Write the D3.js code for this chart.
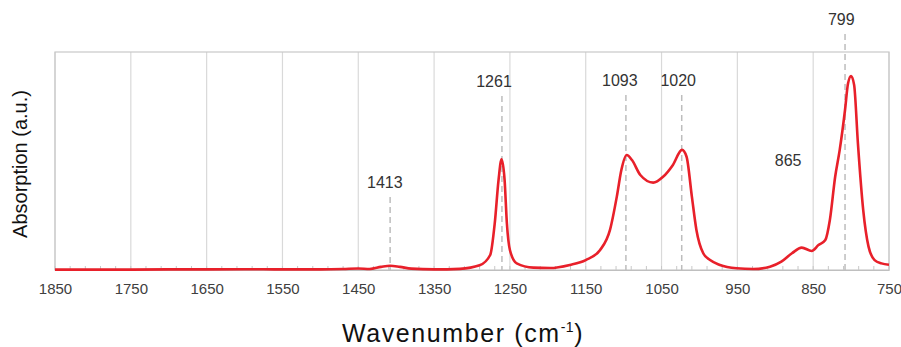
<!DOCTYPE html>
<html>
<head>
<meta charset="utf-8">
<script src="https://cdn.jsdelivr.net/npm/d3@7"></script>
<style>
  body { margin: 0; background: #fff; }
  svg { display: block; font-family: "Liberation Sans", Arial, sans-serif; }
</style>
</head>
<body>
<div id="chart"></div>
<script>
// spectrum (wavenumber in cm-1, absorption in a.u.)
var wavenumber = [1850, 1800, 1750, 1700, 1650, 1600, 1550, 1500, 1470, 1450, 1435, 1420, 1408, 1395, 1380, 1350,
  1316, 1290, 1276, 1270, 1265, 1261, 1257, 1254, 1250, 1241, 1219, 1197, 1171, 1150, 1131, 1118, 1109, 1103,
  1096, 1089, 1078, 1061, 1048, 1035, 1023, 1017, 1010, 1004, 995, 986, 973, 951, 929, 907, 892, 878, 865,
  852, 843, 834, 828, 821, 815, 808, 804, 800, 796, 791, 784, 777, 769, 760, 750];
var absorption = [0.002, 0.002, 0.002, 0.003, 0.003, 0.004, 0.003, 0.003, 0.005, 0.008, 0.005, 0.016, 0.022, 0.016, 0.007, 0.003,
  0.006, 0.024, 0.077, 0.240, 0.462, 0.569, 0.462, 0.240, 0.103, 0.034, 0.012, 0.010, 0.026, 0.051, 0.103, 0.206, 0.377, 0.514,
  0.591, 0.565, 0.488, 0.449, 0.479, 0.540, 0.617, 0.582, 0.377, 0.206, 0.086, 0.051, 0.026, 0.009, 0.005, 0.017, 0.043, 0.086, 0.115,
  0.098, 0.128, 0.154, 0.257, 0.479, 0.617, 0.822, 0.959, 0.997, 0.951, 0.651, 0.308, 0.120, 0.051, 0.034, 0.027];

var xTicks = [1850, 1750, 1650, 1550, 1450, 1350, 1250, 1150, 1050, 950, 850, 750];

// peak labels: text, where the label sits, where its dashed marker sits, label height
var peakText = ["1413", "1261", "1093", "1020", "865", "799"];
var peakLabelAt = [1415, 1271, 1105, 1028, 883, 813];
var peakLineAt = [1408, 1260.5, 1097, 1023.4, null, 808];
var peakLevel = [0.421, 0.940, 0.945, 0.945, 0.534, 1.259];

var W = 901, H = 347;
var margin = { top: 52, right: 12, bottom: 77, left: 55 },
    width = W - margin.left - margin.right,
    height = H - margin.top - margin.bottom;

var svg = d3.select("#chart")
    .append("svg")
    .attr("width", W)
    .attr("height", H);

var g = svg.append("g")
    .attr("transform", "translate(" + margin.left + "," + margin.top + ")");

var x = d3.scaleLinear()
    .domain([1850, 750])
    .range([0, width]);

var y = d3.scaleLinear()
    .domain([0, 1.12])
    .range([height, 0]);

// vertical grid
g.append("g")
    .selectAll("line")
    .data(xTicks)
    .enter().append("line")
    .attr("x1", function (d) { return x(d); })
    .attr("x2", function (d) { return x(d); })
    .attr("y1", 0)
    .attr("y2", height)
    .attr("stroke", "#d9d9d9")
    .attr("stroke-width", 1.2);

// minor ticks, pointing inward
g.append("g")
    .selectAll("line")
    .data(d3.range(1850, 749, -20))
    .enter().append("line")
    .attr("x1", function (d) { return x(d); })
    .attr("x2", function (d) { return x(d); })
    .attr("y1", height)
    .attr("y2", height - 4)
    .attr("stroke", "#c8c8c8")
    .attr("stroke-width", 1);

// frame
g.append("rect")
    .attr("x", 0)
    .attr("y", 0)
    .attr("width", width)
    .attr("height", height)
    .attr("fill", "none")
    .attr("stroke", "#c8c8c8")
    .attr("stroke-width", 1.2);

// x axis labels
var xAxis = g.append("g")
    .attr("transform", "translate(0," + height + ")")
    .call(d3.axisBottom(x).tickValues(xTicks).tickSize(0).tickPadding(13).tickFormat(d3.format("d")));
xAxis.select(".domain").attr("stroke", "#bfbfbf");
xAxis.selectAll("text")
    .attr("font-size", "15px")
    .attr("fill", "#404040")
    .attr("font-family", "Liberation Sans, Arial, sans-serif");

// dashed peak markers
var peaks = peakText.map(function (t, i) {
    return { text: t, at: peakLabelAt[i], line: peakLineAt[i], level: peakLevel[i] };
});

g.append("g")
    .selectAll("line")
    .data(peaks.filter(function (d) { return d.line !== null; }))
    .enter().append("line")
    .attr("x1", function (d) { return x(d.line); })
    .attr("x2", function (d) { return x(d.line); })
    .attr("y1", function (d) { return y(d.level) + 9; })
    .attr("y2", height)
    .attr("stroke", "#bdbdbd")
    .attr("stroke-width", 1.5)
    .attr("stroke-dasharray", "6,4");

// spectrum
var line = d3.line()
    .curve(d3.curveMonotoneX)
    .x(function (d, i) { return x(wavenumber[i]); })
    .y(function (d) { return y(d); });

g.append("path")
    .datum(absorption)
    .attr("fill", "none")
    .attr("stroke", "#e8202a")
    .attr("stroke-width", 2.6)
    .attr("stroke-linejoin", "round")
    .attr("d", line);

// peak labels
g.append("g")
    .selectAll("text")
    .data(peaks)
    .enter().append("text")
    .attr("x", function (d) { return x(d.at); })
    .attr("y", function (d) { return y(d.level); })
    .attr("text-anchor", "middle")
    .attr("font-size", "16px")
    .attr("fill", "#333")
    .text(function (d) { return d.text; });

// axis titles
var title = svg.append("text")
    .attr("x", 463)
    .attr("y", 342)
    .attr("text-anchor", "middle")
    .attr("font-size", "25px")
    .attr("letter-spacing", "1.6px")
    .attr("fill", "#111");
title.append("tspan").text("Wavenumber (cm");
title.append("tspan").attr("font-size", "14px").attr("dy", "-10").attr("letter-spacing", "0.5px").text("-1");
title.append("tspan").attr("dy", "10").text(")");

svg.append("text")
    .attr("transform", "translate(27,164) rotate(-90)")
    .attr("text-anchor", "middle")
    .attr("font-size", "20px")
    .attr("fill", "#111")
    .text("Absorption (a.u.)");
</script>
</body>
</html>
